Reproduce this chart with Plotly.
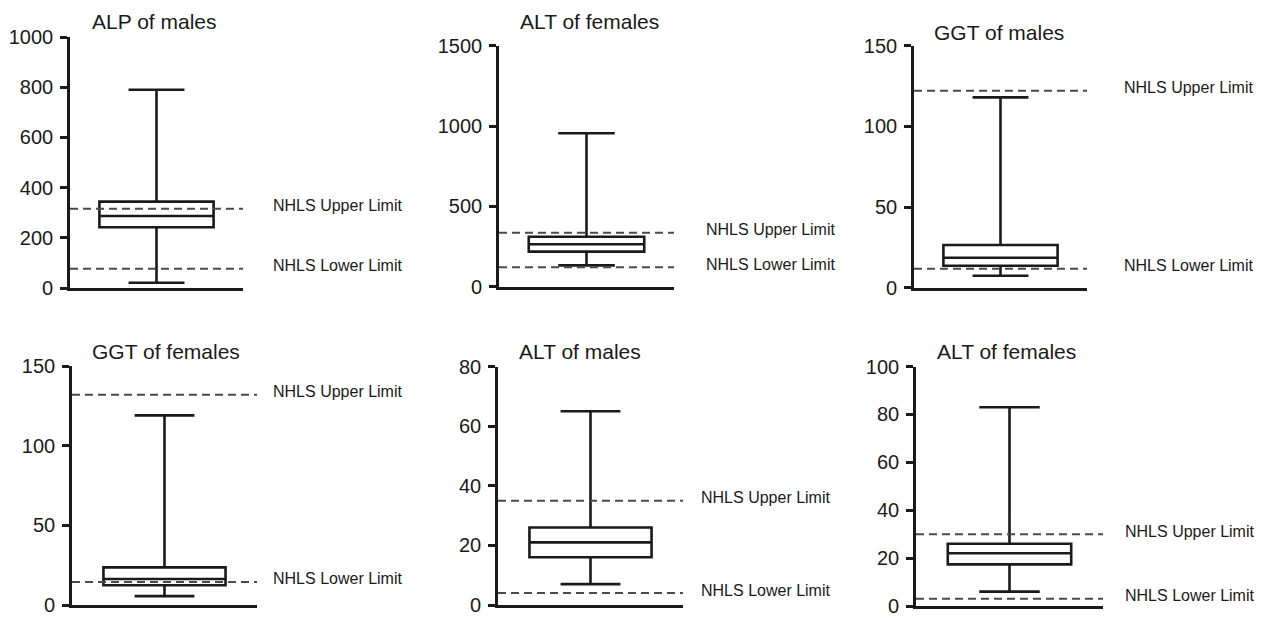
import plotly.graph_objects as go

# ---------------- data ----------------
titles = ["ALP of males", "ALT of females", "GGT of males",
          "GGT of females", "ALT of males", "ALT of females"]
lower_whisker = [21, 133, 7.4, 5.6, 7, 6]
q1_values = [242, 218, 13.6, 12.4, 16, 17.4]
median_values = [287, 264, 18.6, 16.3, 21, 22]
q3_values = [344, 311, 26.5, 23.6, 26, 26]
upper_whisker = [790, 955, 118, 119, 65, 83]
nhls_upper = [316, 336, 122, 132, 35, 30]
nhls_lower = [77, 121, 11.8, 14.5, 4, 3]
y_max = [1000, 1500, 150, 150, 80, 100]
y_step = [200, 500, 50, 50, 20, 20]
upper_label = "NHLS Upper Limit"
lower_label = "NHLS Lower Limit"

# ---------------- layout (pixels) ----------------
W, H = 1263, 619
# (x_left, x_right, y_top, y_bottom) of each plot area in pixels
panel_px = [
    (70, 243, 37, 288),
    (499, 674, 45.7, 286.7),
    (914, 1087, 45.7, 287.7),
    (72, 257, 366, 605),
    (498, 683, 366.5, 605),
    (916, 1103, 366.5, 606),
]
title_px = [(154, 21), (589, 21), (999, 32), (166, 351), (580, 351), (1006, 351)]
label_x_px = [271, 704, 1122, 271, 699, 1123]

INK = "#1a1a1a"
DASH = "#4a4a4a"
FONT = "Liberation Sans, Arial, Helvetica, sans-serif"

fig = go.Figure()

for i in range(6):
    xl, xr, yt, yb = panel_px[i]
    ax = "" if i == 0 else str(i + 1)
    xname, yname = "xaxis" + ax, "yaxis" + ax
    xref, yref = "x" + ax, "y" + ax

    fig.add_trace(go.Box(
        x=[0.5],
        q1=[q1_values[i]], median=[median_values[i]], q3=[q3_values[i]],
        lowerfence=[lower_whisker[i]], upperfence=[upper_whisker[i]],
        width=0.66, whiskerwidth=0.49,
        line=dict(color=INK, width=2.6), fillcolor="white",
        boxpoints=False, hoverinfo="skip", showlegend=False,
        xaxis=xref, yaxis=yref,
    ))

    fig.layout[xname] = dict(
        domain=[xl / W, xr / W], range=[0, 1], anchor=yref,
        showline=True, linecolor=INK, linewidth=2.6,
        showticklabels=False, ticks="", showgrid=False, zeroline=False,
        fixedrange=True, automargin=False,
    )
    fig.layout[yname] = dict(
        domain=[1 - yb / H, 1 - yt / H], range=[0, y_max[i]], anchor=xref,
        tickmode="linear", tick0=0, dtick=y_step[i],
        showline=True, linecolor=INK, linewidth=2.6,
        ticks="outside", ticklen=7, tickwidth=2.6, tickcolor=INK,
        ticklabelstandoff=3, ticklabeloverflow="allow",
        tickfont=dict(family=FONT, size=20, color=INK),
        showgrid=False, zeroline=False, fixedrange=True, automargin=False,
    )

    for val, lab in ((nhls_upper[i], upper_label), (nhls_lower[i], lower_label)):
        fig.add_shape(type="line", xref=xref + " domain", yref=yref,
                      x0=0, x1=1, y0=val, y1=val,
                      line=dict(color=DASH, width=2, dash="8px,5px"))
        fig.add_annotation(x=label_x_px[i] / W, xref="paper", y=val, yref=yref,
                           text=lab, showarrow=False, xanchor="left",
                           yanchor="middle", yshift=3,
                           font=dict(family=FONT, size=16, color=INK))

    tx, ty = title_px[i]
    fig.add_annotation(x=tx / W, y=1 - ty / H, xref="paper", yref="paper",
                       text=titles[i], showarrow=False, xanchor="center",
                       yanchor="middle",
                       font=dict(family=FONT, size=21, color=INK))

fig.update_layout(
    template="none",
    width=W, height=H, margin=dict(l=0, r=0, t=0, b=0, pad=0, autoexpand=False),
    paper_bgcolor="white", plot_bgcolor="white", showlegend=False,
)

fig.write_html(
    "out.html",
    config={"displayModeBar": False},
    post_script="document.body.style.margin='0';document.body.style.overflow='hidden';",
)
